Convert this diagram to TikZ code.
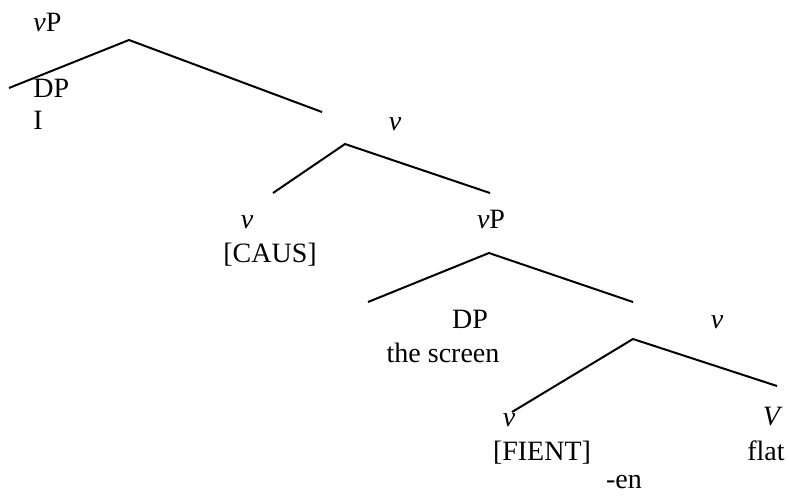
\documentclass[tikz,border=0pt]{standalone}
\usepackage{fontspec}
\setmainfont{Liberation Serif}
\begin{document}
\begin{tikzpicture}[x=0.5pt,y=-0.5pt,
  lbl/.style={inner sep=0pt,anchor=base,font=\fontsize{14pt}{17pt}\selectfont},
  branch/.style={line width=1pt,line join=miter}]
\useasboundingbox (0,0) rectangle (789,495);
% labels
\node[lbl,anchor=base west] (vPa) at (33,31) {\textit{v}P};
\node[lbl,anchor=base west] (DPa) at (33,97) {DP};
\node[lbl,anchor=base west] (Ia) at (33,129) {I};
\node[lbl] (vb) at (395,130) {\textit{v}};
\node[lbl] (vc) at (247,228) {\textit{v}};
\node[lbl] (caus) at (270,262) {[CAUS]};
\node[lbl] (vPd) at (491,228) {\textit{v}P};
\node[lbl] (DPe) at (470,328) {DP};
\node[lbl] (scr) at (443,362) {the screen};
\node[lbl] (vf) at (717,328) {\textit{v}};
\node[lbl] (vg) at (509,426) {\textit{v}};
\node[lbl] (fient) at (542,460) {[FIENT]};
\node[lbl,anchor=base east] (Vh) at (783,425) {\textit{V}};
\node[lbl,anchor=base east] (flat) at (785,460) {flat};
\node[lbl] (en) at (624,488) {-en};
% branch points
\coordinate (r1) at (129,40);
\coordinate (l1) at (9,88);
\coordinate (e1) at (322,112);
\coordinate (r2) at (345,144);
\coordinate (l2) at (273,193);
\coordinate (e2) at (490,193);
\coordinate (r3) at (489,253);
\coordinate (l3) at (368,302);
\coordinate (e3) at (633,302);
\coordinate (r4) at (633,339);
\coordinate (l4) at (512,412);
\coordinate (e4) at (777,386);
% branches
\draw[branch] (l1) -- (r1) -- (e1);
\draw[branch] (l2) -- (r2) -- (e2);
\draw[branch] (l3) -- (r3) -- (e3);
\draw[branch] (l4) -- (r4) -- (e4);
\end{tikzpicture}
\end{document}
